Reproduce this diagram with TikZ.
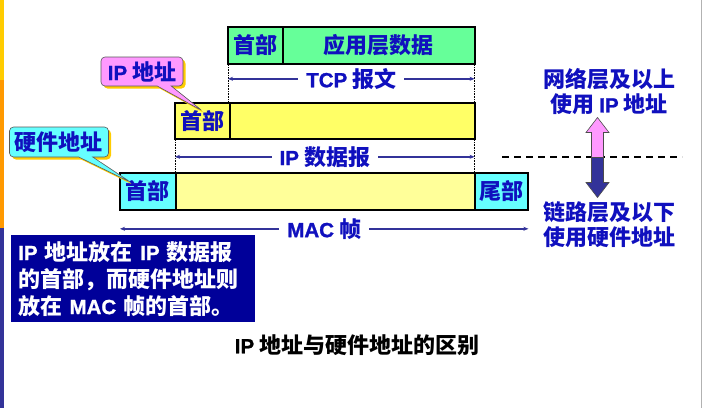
\documentclass[tikz,border=0pt]{standalone}
\usepackage{fontspec}
\setmainfont{Noto Sans CJK SC}
\newfontfamily\latinfont{Liberation Sans}[UprightFont={* Bold}, BoldFont={* Bold},
  UprightFeatures={FakeBold=1.2}, BoldFeatures={FakeBold=1.2}]
\usetikzlibrary{arrows.meta,positioning,shapes.callouts,shadows,calc}
\definecolor{textblue}{RGB}{16,16,190}
\definecolor{linkblue}{RGB}{51,51,153}
\definecolor{tcpgreen}{RGB}{102,255,153}
\definecolor{ipyellow}{RGB}{255,255,102}
\definecolor{macyellow}{RGB}{255,255,153}
\definecolor{maccyan}{RGB}{102,255,255}
\definecolor{tagpink}{RGB}{255,153,255}
\definecolor{notenavy}{RGB}{0,0,153}
\definecolor{shadowgold}{RGB}{255,204,0}
\definecolor{barorange}{RGB}{255,153,0}
\newcommand{\lat}[1]{{\latinfont\fontsize{20.5pt}{26pt}\selectfont #1}}
\tikzset{
  cell/.style={
    draw=black,
    line width=0.8pt,
    minimum height=36pt,
    inner sep=0pt,
    text=textblue,
    font=\bfseries\fontsize{22pt}{26pt}\selectfont
  },
  frame/.style={
    draw=black,
    line width=2pt
  },
  guide/.style={
    draw=black,
    line width=0.6pt,
    densely dotted
  },
  span/.style={
    {Stealth[length=5pt,width=4pt]}-{Stealth[length=5pt,width=4pt]},
    draw=linkblue,
    line width=1.4pt
  },
  spanlabel/.style={
    fill=white,
    inner xsep=8pt,
    inner ysep=1pt,
    text=textblue,
    font=\bfseries\fontsize{22pt}{26pt}\selectfont
  },
  tag/.style={
    rectangle callout,
    rounded corners=4pt,
    draw=black!65,
    line width=0.6pt,
    callout pointer width=14pt,
    inner sep=0pt,
    text=textblue,
    font=\bfseries\fontsize{22pt}{26pt}\selectfont,
    drop shadow={fill=shadowgold, opacity=1, shadow xshift=2.5pt, shadow yshift=-2.5pt}
  },
  note/.style={
    fill=notenavy,
    text=white,
    align=left,
    inner xsep=7pt,
    inner ysep=0pt,
    font=\bfseries\fontsize{22pt}{27pt}\selectfont
  },
  layertext/.style={
    text=textblue,
    align=center,
    inner sep=0pt,
    font=\bfseries\fontsize{22pt}{25pt}\selectfont
  },
  layerline/.style={
    draw=black,
    line width=1.5pt,
    dash pattern=on 7pt off 5pt
  },
  blockarrow/.style={
    draw=black!70,
    line width=0.6pt
  }
}

\begin{document}
\begin{tikzpicture}[x=1pt, y=-1pt, node distance=0pt]
  \useasboundingbox (0,0) rectangle (702,408);
  % side bars
  \fill[shadowgold] (0,0) rectangle (4,80);
  \fill[barorange] (0,80) rectangle (4,228);
  \fill[linkblue] (0,228) rectangle (4,408);
  \fill[black!30] (701,0) rectangle (702,408);

  % TCP segment
  \node[cell, fill=tcpgreen, minimum width=54pt, anchor=north west] (tcph) at (228,27) {首部};
  \node[cell, fill=tcpgreen, minimum width=191pt, right=of tcph] (tcpd) {应用层数据};
  \draw[frame] (tcph.north west) rectangle (tcpd.south east);

  % IP datagram
  \node[cell, fill=ipyellow, minimum width=54pt, minimum height=35pt, anchor=north west] (iph) at (175,103) {首部};
  \node[cell, fill=ipyellow, minimum width=244pt, minimum height=35pt, right=of iph] (ipd) {};
  \draw[frame] (iph.north west) rectangle (ipd.south east);

  % MAC frame
  \node[cell, fill=maccyan, minimum width=55pt, anchor=north west] (mach) at (120,173) {首部};
  \node[cell, fill=macyellow, minimum width=298pt, right=of mach] (macd) {};
  \node[cell, fill=maccyan, minimum width=53pt, right=of macd] (mact) {尾部};
  \draw[frame] (mach.north west) rectangle (mact.south east);

  % guides and spans
  \draw[guide] (tcph.south west) -- (tcph.south west |- iph.north);
  \draw[guide] (tcpd.south east) -- (tcpd.south east |- ipd.north);
  \draw[guide] (iph.south west) -- (iph.south west |- mach.north);
  \draw[guide] (ipd.south east) -- (ipd.south east |- macd.north);
  \draw[span] ($(tcph.south west)+(0,15)$) -- ($(tcpd.south east)+(0,15)$)
    node[midway, spanlabel] {\lat{TCP} 报文};
  \draw[span] ($(iph.south west)+(0,18)$) -- ($(ipd.south east)+(0,18)$)
    node[midway, spanlabel] {\lat{IP} 数据报};
  \draw[span] ($(mach.south west)+(0,19)$) -- ($(mact.south east)+(0,19)$)
    node[midway, spanlabel] {\lat{MAC} 帧};

  % address tags
  \node[tag, fill=tagpink, minimum width=82pt, minimum height=29pt,
    callout absolute pointer={($(iph.center)+(0,-10)$)}] (iptag) at (142,71.5) {\lat{IP} 地址};
  \node[tag, fill=maccyan, minimum width=99pt, minimum height=30pt,
    callout absolute pointer={($(mach.center)+(-17,-9)$)}] (hwtag) at (59,142) {硬件地址};

  % note and caption
  \node[note, anchor=north west, minimum width=244pt, minimum height=87pt, text width=230pt] (note) at (11,235)
    {\lat{IP} 地址放在 \lat{IP} 数据报\\的首部，而硬件地址则\\放在 \lat{MAC} 帧的首部。};
  \node[layertext, text=black] (caption) at (357,345) {\lat{IP} 地址与硬件地址的区别};

  % layer boundary
  \coordinate (layerL) at (502,157);
  \coordinate (layerR) at (682,157);
  \coordinate (split) at (597.5,157.5);
  \draw[layerline] (layerL) -- (layerR);
  \draw[blockarrow, fill=tagpink] ($(split)+(-6,0)$) -- ++(0,-25) -- ++(-5.5,0) -- ($(split)+(0,-40)$)
    -- ++(11.5,15) -- ++(-5.5,0) -- ++(0,25) -- cycle;
  \draw[blockarrow, fill=linkblue] ($(split)+(-6,0)$) -- ++(0,25) -- ++(-5.5,0) -- ($(split)+(0,40)$)
    -- ++(11.5,-15) -- ++(-5.5,0) -- ++(0,-25) -- cycle;
  \node[layertext] (upper) at (609,91.5) {网络层及以上\\使用 \lat{IP} 地址};
  \node[layertext] (lower) at (609,225) {链路层及以下\\使用硬件地址};
\end{tikzpicture}
\end{document}
